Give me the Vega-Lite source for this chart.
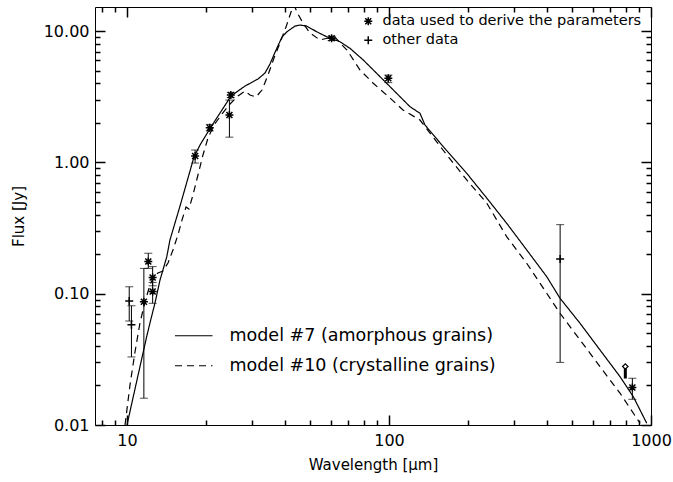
{
  "$schema": "https://vega.github.io/schema/vega-lite/v6.json",
  "width": 556,
  "height": 418,
  "autosize": {"type": "none"},
  "padding": {"left": 95, "top": 7, "right": 22, "bottom": 57},
  "background": "white",
  "config": {
    "view": {"stroke": "black", "strokeWidth": 1},
    "axis": {
      "grid": false, "domain": false, "ticks": true, "tickColor": "black", "tickWidth": 1.5, "tickOpacity": 1, "zindex": 1,
      "labelColor": "black", "labelFont": "DejaVu Sans", "labelFontSize": 16,
      "titleFont": "DejaVu Sans", "titleFontSize": 15, "titleFontWeight": "normal", "titleColor": "black",
      "labelOverlap": false, "labelFlush": false, "labelBound": false
    },
    "legend": {"labelFont": "DejaVu Sans", "labelColor": "black", "padding": 0, "labelLimit": 500}
  },
  "datasets": {
    "curves": [
      {"wl": 10.0, "flux": 0.0100, "model": "model #7 (amorphous grains)"},
      {"wl": 10.57, "flux": 0.01646, "model": "model #7 (amorphous grains)"},
      {"wl": 11.21, "flux": 0.02785, "model": "model #7 (amorphous grains)"},
      {"wl": 11.89, "flux": 0.04713, "model": "model #7 (amorphous grains)"},
      {"wl": 12.24, "flux": 0.0599, "model": "model #7 (amorphous grains)"},
      {"wl": 12.79, "flux": 0.0851, "model": "model #7 (amorphous grains)"},
      {"wl": 13.37, "flux": 0.1274, "model": "model #7 (amorphous grains)"},
      {"wl": 14.18, "flux": 0.1907, "model": "model #7 (amorphous grains)"},
      {"wl": 14.59, "flux": 0.257, "model": "model #7 (amorphous grains)"},
      {"wl": 15.94, "flux": 0.4664, "model": "model #7 (amorphous grains)"},
      {"wl": 18.02, "flux": 1.101, "model": "model #7 (amorphous grains)"},
      {"wl": 19.0, "flux": 1.359, "model": "model #7 (amorphous grains)"},
      {"wl": 20.92, "flux": 1.864, "model": "model #7 (amorphous grains)"},
      {"wl": 22.65, "flux": 2.382, "model": "model #7 (amorphous grains)"},
      {"wl": 24.95, "flux": 3.21, "model": "model #7 (amorphous grains)"},
      {"wl": 28.22, "flux": 3.824, "model": "model #7 (amorphous grains)"},
      {"wl": 31.62, "flux": 4.325, "model": "model #7 (amorphous grains)"},
      {"wl": 33.63, "flux": 4.804, "model": "model #7 (amorphous grains)"},
      {"wl": 35.14, "flux": 5.626, "model": "model #7 (amorphous grains)"},
      {"wl": 37.05, "flux": 7.193, "model": "model #7 (amorphous grains)"},
      {"wl": 39.05, "flux": 9.033, "model": "model #7 (amorphous grains)"},
      {"wl": 40.8, "flux": 9.913, "model": "model #7 (amorphous grains)"},
      {"wl": 43.77, "flux": 10.95, "model": "model #7 (amorphous grains)"},
      {"wl": 45.74, "flux": 11.15, "model": "model #7 (amorphous grains)"},
      {"wl": 48.52, "flux": 10.95, "model": "model #7 (amorphous grains)"},
      {"wl": 52.97, "flux": 9.91, "model": "model #7 (amorphous grains)"},
      {"wl": 57.84, "flux": 9.08, "model": "model #7 (amorphous grains)"},
      {"wl": 65.01, "flux": 8.318, "model": "model #7 (amorphous grains)"},
      {"wl": 70.98, "flux": 7.41, "model": "model #7 (amorphous grains)"},
      {"wl": 79.79, "flux": 6.035, "model": "model #7 (amorphous grains)"},
      {"wl": 89.75, "flux": 4.779, "model": "model #7 (amorphous grains)"},
      {"wl": 98.0, "flux": 4.011, "model": "model #7 (amorphous grains)"},
      {"wl": 110.2, "flux": 3.171, "model": "model #7 (amorphous grains)"},
      {"wl": 120.3, "flux": 2.661, "model": "model #7 (amorphous grains)"},
      {"wl": 131.3, "flux": 2.37, "model": "model #7 (amorphous grains)"},
      {"wl": 137.2, "flux": 1.93, "model": "model #7 (amorphous grains)"},
      {"wl": 161.2, "flux": 1.319, "model": "model #7 (amorphous grains)"},
      {"wl": 198.0, "flux": 0.8276, "model": "model #7 (amorphous grains)"},
      {"wl": 239.3, "flux": 0.5182, "model": "model #7 (amorphous grains)"},
      {"wl": 281.3, "flux": 0.3443, "model": "model #7 (amorphous grains)"},
      {"wl": 335.4, "flux": 0.2157, "model": "model #7 (amorphous grains)"},
      {"wl": 399.9, "flux": 0.135, "model": "model #7 (amorphous grains)"},
      {"wl": 449.5, "flux": 0.0924, "model": "model #7 (amorphous grains)"},
      {"wl": 535.8, "flux": 0.0596, "model": "model #7 (amorphous grains)"},
      {"wl": 638.7, "flux": 0.0373, "model": "model #7 (amorphous grains)"},
      {"wl": 761.6, "flux": 0.02336, "model": "model #7 (amorphous grains)"},
      {"wl": 855.7, "flux": 0.01646, "model": "model #7 (amorphous grains)"},
      {"wl": 963.0, "flux": 0.01032, "model": "model #7 (amorphous grains)"},
      {"wl": 9.83, "flux": 0.0100, "model": "model #10 (crystalline grains)"},
      {"wl": 10.27, "flux": 0.0202, "model": "model #10 (crystalline grains)"},
      {"wl": 10.73, "flux": 0.036, "model": "model #10 (crystalline grains)"},
      {"wl": 11.21, "flux": 0.0599, "model": "model #10 (crystalline grains)"},
      {"wl": 11.71, "flux": 0.0866, "model": "model #10 (crystalline grains)"},
      {"wl": 12.24, "flux": 0.1167, "model": "model #10 (crystalline grains)"},
      {"wl": 12.68, "flux": 0.1366, "model": "model #10 (crystalline grains)"},
      {"wl": 13.13, "flux": 0.144, "model": "model #10 (crystalline grains)"},
      {"wl": 13.72, "flux": 0.1492, "model": "model #10 (crystalline grains)"},
      {"wl": 14.34, "flux": 0.1716, "model": "model #10 (crystalline grains)"},
      {"wl": 14.98, "flux": 0.2157, "model": "model #10 (crystalline grains)"},
      {"wl": 15.65, "flux": 0.2805, "model": "model #10 (crystalline grains)"},
      {"wl": 16.22, "flux": 0.3648, "model": "model #10 (crystalline grains)"},
      {"wl": 16.8, "flux": 0.4582, "model": "model #10 (crystalline grains)"},
      {"wl": 17.24, "flux": 0.4424, "model": "model #10 (crystalline grains)"},
      {"wl": 17.86, "flux": 0.5655, "model": "model #10 (crystalline grains)"},
      {"wl": 18.66, "flux": 0.8031, "model": "model #10 (crystalline grains)"},
      {"wl": 19.5, "flux": 1.141, "model": "model #10 (crystalline grains)"},
      {"wl": 20.38, "flux": 1.537, "model": "model #10 (crystalline grains)"},
      {"wl": 21.48, "flux": 1.93, "model": "model #10 (crystalline grains)"},
      {"wl": 23.05, "flux": 2.341, "model": "model #10 (crystalline grains)"},
      {"wl": 24.73, "flux": 2.79, "model": "model #10 (crystalline grains)"},
      {"wl": 26.53, "flux": 3.21, "model": "model #10 (crystalline grains)"},
      {"wl": 28.22, "flux": 3.504, "model": "model #10 (crystalline grains)"},
      {"wl": 29.48, "flux": 3.267, "model": "model #10 (crystalline grains)"},
      {"wl": 31.07, "flux": 3.155, "model": "model #10 (crystalline grains)"},
      {"wl": 32.75, "flux": 3.566, "model": "model #10 (crystalline grains)"},
      {"wl": 34.53, "flux": 4.638, "model": "model #10 (crystalline grains)"},
      {"wl": 36.4, "flux": 6.25, "model": "model #10 (crystalline grains)"},
      {"wl": 38.37, "flux": 8.131, "model": "model #10 (crystalline grains)"},
      {"wl": 40.45, "flux": 10.76, "model": "model #10 (crystalline grains)"},
      {"wl": 42.27, "flux": 14.0, "model": "model #10 (crystalline grains)"},
      {"wl": 43.39, "flux": 15.83, "model": "model #10 (crystalline grains)"},
      {"wl": 44.95, "flux": 13.52, "model": "model #10 (crystalline grains)"},
      {"wl": 46.97, "flux": 11.55, "model": "model #10 (crystalline grains)"},
      {"wl": 49.94, "flux": 9.69, "model": "model #10 (crystalline grains)"},
      {"wl": 54.53, "flux": 8.57, "model": "model #10 (crystalline grains)"},
      {"wl": 58.51, "flux": 8.88, "model": "model #10 (crystalline grains)"},
      {"wl": 62.21, "flux": 9.03, "model": "model #10 (crystalline grains)"},
      {"wl": 66.17, "flux": 7.85, "model": "model #10 (crystalline grains)"},
      {"wl": 69.15, "flux": 7.19, "model": "model #10 (crystalline grains)"},
      {"wl": 77.52, "flux": 5.065, "model": "model #10 (crystalline grains)"},
      {"wl": 86.88, "flux": 4.032, "model": "model #10 (crystalline grains)"},
      {"wl": 100.9, "flux": 3.099, "model": "model #10 (crystalline grains)"},
      {"wl": 113.1, "flux": 2.511, "model": "model #10 (crystalline grains)"},
      {"wl": 131.3, "flux": 2.107, "model": "model #10 (crystalline grains)"},
      {"wl": 160.7, "flux": 1.245, "model": "model #10 (crystalline grains)"},
      {"wl": 198.0, "flux": 0.7358, "model": "model #10 (crystalline grains)"},
      {"wl": 236.0, "flux": 0.4915, "model": "model #10 (crystalline grains)"},
      {"wl": 281.3, "flux": 0.2722, "model": "model #10 (crystalline grains)"},
      {"wl": 335.4, "flux": 0.1707, "model": "model #10 (crystalline grains)"},
      {"wl": 399.9, "flux": 0.1009, "model": "model #10 (crystalline grains)"},
      {"wl": 449.5, "flux": 0.071, "model": "model #10 (crystalline grains)"},
      {"wl": 535.8, "flux": 0.0445, "model": "model #10 (crystalline grains)"},
      {"wl": 638.7, "flux": 0.02785, "model": "model #10 (crystalline grains)"},
      {"wl": 761.6, "flux": 0.01747, "model": "model #10 (crystalline grains)"},
      {"wl": 907.8, "flux": 0.01032, "model": "model #10 (crystalline grains)"}
    ],
    "obs": [
      {"wl": 10.2, "flux": 0.088, "lo": 0.062, "hi": 0.113, "type": "other data"},
      {"wl": 10.4, "flux": 0.058, "lo": 0.033, "hi": 0.081, "type": "other data"},
      {"wl": 11.6, "flux": 0.087, "lo": 0.016, "hi": 0.156, "type": "data used to derive the parameters"},
      {"wl": 12.06, "flux": 0.176, "lo": 0.156, "hi": 0.2035, "type": "data used to derive the parameters"},
      {"wl": 12.53, "flux": 0.133, "lo": 0.115, "hi": 0.161, "type": "data used to derive the parameters"},
      {"wl": 12.53, "flux": 0.104, "lo": 0.0846, "hi": 0.122, "type": "data used to derive the parameters"},
      {"wl": 18.2, "flux": 1.12, "lo": 0.99, "hi": 1.245, "type": "data used to derive the parameters"},
      {"wl": 20.7, "flux": 1.84, "lo": 1.74, "hi": 1.95, "type": "data used to derive the parameters"},
      {"wl": 24.9, "flux": 3.27, "lo": 3.12, "hi": 3.42, "type": "data used to derive the parameters"},
      {"wl": 24.6, "flux": 2.3, "lo": 1.56, "hi": 2.99, "type": "data used to derive the parameters"},
      {"wl": 60.4, "flux": 8.83, "lo": 8.5, "hi": 9.15, "type": "data used to derive the parameters"},
      {"wl": 99.4, "flux": 4.38, "lo": 4.06, "hi": 4.63, "type": "data used to derive the parameters"},
      {"wl": 450, "flux": 0.184, "lo": 0.030, "hi": 0.336, "type": "other data"},
      {"wl": 849, "flux": 0.0193, "lo": 0.0157, "hi": 0.0227, "type": "data used to derive the parameters"}
    ],
    "ulim": [
      {"wl": 798, "flux": 0.0279, "tip": 0.0226}
    ]
  },
  "resolve": {"axis": {"x": "independent", "y": "independent"}},
  "layer": [
    {
      "data": {"name": "curves"},
      "mark": {"type": "line", "color": "black", "strokeWidth": 1.2, "clip": true},
      "encoding": {
        "x": {
          "field": "wl", "type": "quantitative",
          "scale": {"type": "log", "domain": [7.55, 1000], "nice": false, "zero": false},
          "axis": {
            "orient": "bottom", "title": "Wavelength [μm]",
            "values": [10, 100, 1000], "format": "d", "offset": -10, "tickSize": 10,
            "labelPadding": 7, "titlePadding": 9
          }
        },
        "y": {
          "field": "flux", "type": "quantitative",
          "scale": {"type": "log", "domain": [0.01, 15.3], "nice": false, "zero": false},
          "axis": {
            "orient": "left", "title": "Flux [Jy]",
            "values": [0.01, 0.1, 1, 10], "format": ".2f", "offset": -10, "tickSize": 10,
            "labelPadding": 6, "titlePadding": 17
          }
        },
        "strokeDash": {
          "field": "model", "type": "nominal",
          "scale": {"domain": ["model #7 (amorphous grains)", "model #10 (crystalline grains)"], "range": [[1, 0], [7, 5]]},
          "legend": {
            "orient": "none", "legendX": 90, "legendY": 320, "title": null,
            "labelFontSize": 17.5, "symbolType": "M-2.5,0L2.5,0", "symbolSize": 225,
            "symbolStrokeColor": "black", "symbolStrokeWidth": 1.2, "labelOffset": 27, "rowPadding": 11
          }
        }
      }
    },
    {
      "data": {"name": "obs"},
      "mark": {"type": "rule", "color": "black", "strokeWidth": 1},
      "encoding": {
        "x": {
          "field": "wl", "type": "quantitative",
          "scale": {"type": "log", "domain": [7.55, 1000], "nice": false, "zero": false},
          "axis": {"orient": "top", "title": null, "labels": false, "values": [10, 100, 1000], "offset": -10, "tickSize": 10}
        },
        "y": {
          "field": "lo", "type": "quantitative",
          "scale": {"type": "log", "domain": [0.01, 15.3], "nice": false, "zero": false},
          "axis": {"orient": "right", "title": null, "labels": false, "values": [0.01, 0.1, 1, 10], "offset": -10, "tickSize": 10}
        },
        "y2": {"field": "hi"}
      }
    },
    {
      "data": {"name": "obs"},
      "mark": {"type": "tick", "orient": "horizontal", "color": "black", "size": 8, "thickness": 1},
      "encoding": {
        "x": {
          "field": "wl", "type": "quantitative", "scale": {"type": "log", "domain": [7.55, 1000], "nice": false},
          "axis": {"orient": "bottom", "title": null, "labels": false, "offset": -5, "tickSize": 5,
            "values": [8, 9, 20, 30, 40, 50, 60, 70, 80, 90, 200, 300, 400, 500, 600, 700, 800, 900]}
        },
        "y": {
          "field": "lo", "type": "quantitative", "scale": {"type": "log", "domain": [0.01, 15.3], "nice": false},
          "axis": {"orient": "left", "title": null, "labels": false, "offset": -5, "tickSize": 5,
            "values": [0.02, 0.03, 0.04, 0.05, 0.06, 0.07, 0.08, 0.09, 0.2, 0.3, 0.4, 0.5, 0.6, 0.7, 0.8, 0.9, 2, 3, 4, 5, 6, 7, 8, 9]}
        }
      }
    },
    {
      "data": {"name": "obs"},
      "mark": {"type": "tick", "orient": "horizontal", "color": "black", "size": 8, "thickness": 1},
      "encoding": {
        "x": {
          "field": "wl", "type": "quantitative", "scale": {"type": "log", "domain": [7.55, 1000], "nice": false},
          "axis": {"orient": "top", "title": null, "labels": false, "offset": -5, "tickSize": 5,
            "values": [8, 9, 20, 30, 40, 50, 60, 70, 80, 90, 200, 300, 400, 500, 600, 700, 800, 900]}
        },
        "y": {
          "field": "hi", "type": "quantitative", "scale": {"type": "log", "domain": [0.01, 15.3], "nice": false},
          "axis": {"orient": "right", "title": null, "labels": false, "offset": -5, "tickSize": 5,
            "values": [0.02, 0.03, 0.04, 0.05, 0.06, 0.07, 0.08, 0.09, 0.2, 0.3, 0.4, 0.5, 0.6, 0.7, 0.8, 0.9, 2, 3, 4, 5, 6, 7, 8, 9]}
        }
      }
    },
    {
      "data": {"name": "obs"},
      "mark": {"type": "point", "filled": false, "stroke": "black", "strokeWidth": 1.5, "opacity": 1, "size": 64},
      "encoding": {
        "x": {"field": "wl", "type": "quantitative", "scale": {"type": "log", "domain": [7.55, 1000], "nice": false}, "axis": null},
        "y": {"field": "flux", "type": "quantitative", "scale": {"type": "log", "domain": [0.01, 15.3], "nice": false}, "axis": null},
        "shape": {
          "field": "type", "type": "nominal",
          "scale": {
            "domain": ["data used to derive the parameters", "other data"],
            "range": ["M-1,0L1,0M0,-1L0,1M-0.75,-0.75L0.75,0.75M-0.75,0.75L0.75,-0.75", "M-1,0L1,0M0,-1L0,1"]
          },
          "legend": {
            "orient": "none", "legendX": 266, "legendY": 7, "title": null,
            "labelFontSize": 14.5, "symbolSize": 64, "symbolStrokeColor": "black", "symbolStrokeWidth": 1.5,
            "symbolFillColor": "transparent", "labelOffset": 7, "rowPadding": 3
          }
        }
      }
    },
    {
      "data": {"name": "ulim"},
      "mark": {"type": "rule", "color": "black", "strokeWidth": 3},
      "encoding": {
        "x": {"field": "wl", "type": "quantitative", "scale": {"type": "log", "domain": [7.55, 1000], "nice": false}, "axis": null},
        "y": {"field": "flux", "type": "quantitative", "scale": {"type": "log", "domain": [0.01, 15.3], "nice": false}, "axis": null},
        "y2": {"field": "tip"}
      }
    },
    {
      "data": {"name": "ulim"},
      "mark": {"type": "point", "shape": "diamond", "filled": true, "fill": "white", "stroke": "black", "strokeWidth": 1.2, "opacity": 1, "size": 30},
      "encoding": {
        "x": {"field": "wl", "type": "quantitative", "scale": {"type": "log", "domain": [7.55, 1000], "nice": false}, "axis": null},
        "y": {"field": "flux", "type": "quantitative", "scale": {"type": "log", "domain": [0.01, 15.3], "nice": false}, "axis": null}
      }
    }
  ]
}
